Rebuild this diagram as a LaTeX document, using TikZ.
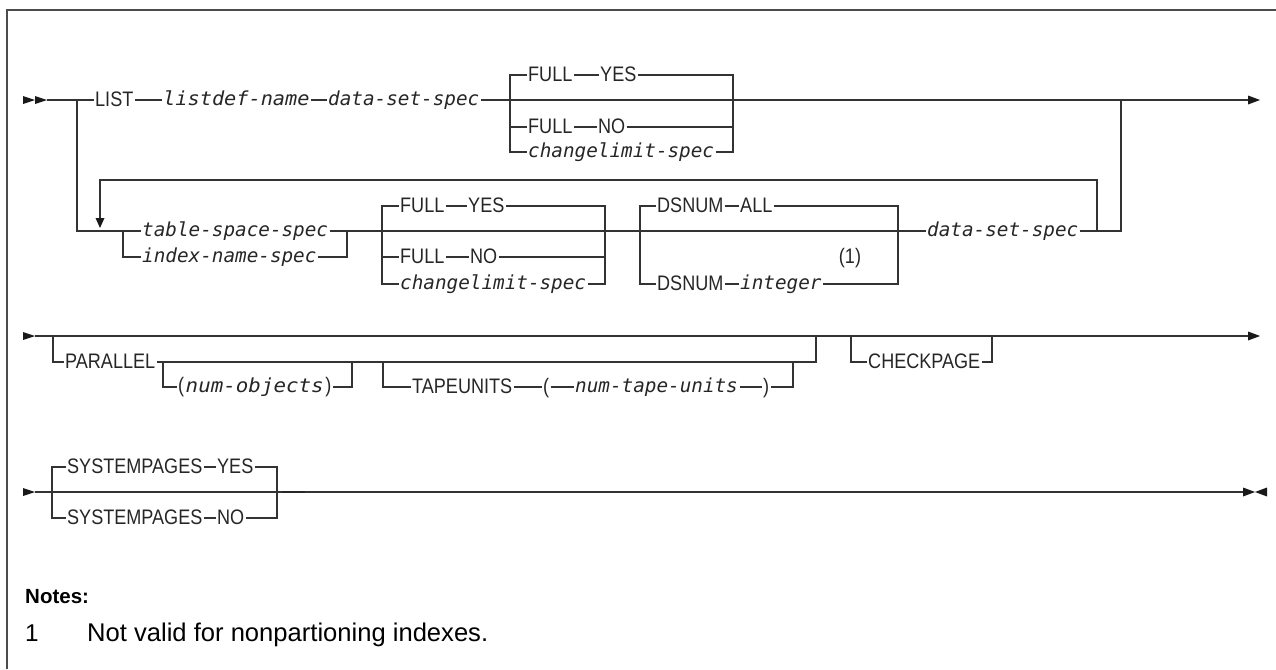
\documentclass[tikz,border=0pt]{standalone}
\usepackage{fontspec}
\usepackage{graphicx}
\newfontfamily\kwfont[Scale=2.1,FakeStretch=0.86]{Liberation Sans}
\newfontfamily\varfont[Scale=1.93]{DejaVu Sans Mono}
\newfontfamily\notefont[Scale=2.4]{Liberation Sans}
\newfontfamily\notebold[Scale=2.05]{Liberation Sans Bold}
\tikzset{
  rr/.style={line width=1.3pt, draw=black!80},
  kw/.style={font=\kwfont, inner xsep=1.5pt, inner ysep=0pt,
             text height=14.6pt, text depth=2pt, anchor=west, text=black!85},
  var/.style={font=\varfont\itshape, inner xsep=1.5pt, inner ysep=0pt,
             text height=15.2pt, text depth=4pt, anchor=west, text=black!85},
  note/.style={font=\notefont, inner sep=0pt, anchor=base west},
  tip/.style={fill=black!90},
  frame/.style={line width=2pt, draw=black!70}
}
\newcommand{\kwpar}[1]{{\kwfont\upshape #1}}
\begin{document}
\begin{tikzpicture}[x=1pt,y=-1pt]
\useasboundingbox (0,0) rectangle (1276,669);
% frame
\coordinate (fbl) at (7,669); \coordinate (ftl) at (7,10); \coordinate (ftr) at (1276,10);
\draw[frame] (fbl) -- (ftl) -- (ftr);

% ---------- Row 1 ----------
\coordinate (r1s) at (47,100); \coordinate (r1e) at (1248,100);
\fill[tip] (23,96) -- (35,100) -- (23,104) -- cycle;
\fill[tip] (35,96) -- (47,100) -- (35,104) -- cycle;
\fill[tip] (1248,95.5) -- (1260,100) -- (1248,104.5) -- cycle;
\node[kw] (list) at (93.5,100) {LIST};
\node[var] (ldn) at (161.5,100) {\scalebox{1.05}[1]{listdef-name}};
\node[var] (dss1) at (326.5,100) {data-set-spec};
\draw[rr] (r1s) -- (list.west) (list.east) -- (ldn.west) (ldn.east) -- (dss1.west) (dss1.east) -- (r1e);
% FULL box row 1
\coordinate (f1l) at (510,100); \coordinate (f1r) at (733,100);
\node[kw] (f1full) at (526.5,75) {FULL};
\node[kw] (f1yes) at (598.5,75) {YES};
\node[kw] (f1full2) at (526.5,127) {FULL};
\node[kw] (f1no) at (596.5,127) {NO};
\node[var] (f1cl) at (526.5,152) {changelimit-spec};
\draw[rr] (f1l) |- (f1full.west) (f1l) |- (f1full2.west) (f1l) |- (f1cl.west)
  (f1full.east) -- (f1yes.west) (f1yes.east) -| (f1r)
  (f1full2.east) -- (f1no.west) (f1no.east) -| (f1r) (f1cl.east) -| (f1r);
% branch down to row 2
\coordinate (b1) at (77,100);

% ---------- Row 2 ----------
\node[var] (tss) at (140.5,231) {table-space-spec};
\node[var] (ins) at (140.5,257) {index-name-spec};
\coordinate (lb2) at (123,231); \coordinate (rb2) at (347,231);
\draw[rr] (b1) |- (tss.west) (lb2) |- (ins.west) (tss.east) -- (rb2) (ins.east) -| (rb2);
\node[var] (dss2) at (925.5,231) {data-set-spec};
\draw[rr] (rb2) -- (dss2.west);
% FULL box row 2
\coordinate (f2l) at (382,231); \coordinate (f2r) at (605,231);
\node[kw] (f2full) at (398.5,206) {FULL};
\node[kw] (f2yes) at (466.5,206) {YES};
\node[kw] (f2full2) at (398.5,257) {FULL};
\node[kw] (f2no) at (468.5,257) {NO};
\node[var] (f2cl) at (398.5,284) {changelimit-spec};
\draw[rr] (f2l) |- (f2full.west) (f2l) |- (f2full2.west) (f2l) |- (f2cl.west)
  (f2full.east) -- (f2yes.west) (f2yes.east) -| (f2r)
  (f2full2.east) -- (f2no.west) (f2no.east) -| (f2r) (f2cl.east) -| (f2r);
% DSNUM box
\coordinate (d2l) at (640,231); \coordinate (d2r) at (898,231);
\node[kw] (dsn1) at (655.5,206) {DSNUM};
\node[kw] (dall) at (738.5,206) {ALL};
\node[kw] (dsn2) at (655.5,284) {DSNUM};
\node[var] (dint) at (738.5,284) {integer};
\node[kw, anchor=center] (fn1) at (850,257) {(1)};
\draw[rr] (d2l) |- (dsn1.west) (d2l) |- (dsn2.west)
  (dsn1.east) -- (dall.west) (dall.east) -| (d2r)
  (dsn2.east) -- (dint.west) (dint.east) -| (d2r);
% loop end and repeat
\coordinate (j1) at (1121,100); \coordinate (j2) at (1121,231);
\draw[rr] (dss2.east) -- (j2) -- (j1);
\coordinate (rp1) at (1097,231); \coordinate (rp2) at (1097,180);
\coordinate (rp3) at (100,180); \coordinate (rp4) at (100,219);
\draw[rr] (rp1) -- (rp2) -- (rp3) -- (rp4);
\fill[tip] (95.5,218) -- (104.5,218) -- (100,228) -- cycle;

% ---------- Row 3 ----------
\coordinate (r3s) at (35,336); \coordinate (r3e) at (1248,336);
\fill[tip] (23,332) -- (35,336) -- (23,340) -- cycle;
\fill[tip] (1248,331.5) -- (1260,336) -- (1248,340.5) -- cycle;
\draw[rr] (r3s) -- (r3e);
\coordinate (p1) at (53,336); \coordinate (p2) at (816,336);
\node[kw] (par) at (63.5,362) {PARALLEL};
\draw[rr] (p1) |- (par.west) (par.east) -| (p2);
\coordinate (n1) at (163,362); \coordinate (n2) at (352,362);
\node[var] (nob) at (176.5,387) {\kwpar{(}\hspace{1.5pt}\scalebox{1.08}[1]{num-objects}\hspace{1.5pt}\kwpar{)}};
\draw[rr] (n1) |- (nob.west) (nob.east) -| (n2);
\coordinate (t1) at (383,362); \coordinate (t2) at (793,362);
\node[kw] (tape) at (410.5,387) {TAPEUNITS};
\node[kw] (lpar) at (541.5,387) {(};
\node[var] (ntu) at (573.5,387) {num-tape-units};
\node[kw] (rpar) at (761.5,387) {)};
\draw[rr] (t1) |- (tape.west) (tape.east) -- (lpar.west) (lpar.east) -- (ntu.west)
  (ntu.east) -- (rpar.west) (rpar.east) -| (t2);
\coordinate (c1) at (851,336); \coordinate (c2) at (992,336);
\node[kw] (chk) at (866.5,362) {CHECKPAGE};
\draw[rr] (c1) |- (chk.west) (chk.east) -| (c2);

% ---------- Row 4 ----------
\coordinate (r4s) at (35,492); \coordinate (r4e) at (1243,492);
\fill[tip] (23,488) -- (35,492) -- (23,496) -- cycle;
\fill[tip] (1243,487.5) -- (1255,492) -- (1243,496.5) -- cycle;
\fill[tip] (1267,487.5) -- (1255,492) -- (1267,496.5) -- cycle;
\draw[rr] (r4s) -- (r4e);
\coordinate (s1) at (52,492); \coordinate (s2) at (277,492);
\node[kw] (sys1) at (65.5,467) {SYSTEMPAGES};
\node[kw] (yes4) at (215.5,467) {YES};
\node[kw] (sys2) at (65.5,518) {SYSTEMPAGES};
\node[kw] (no4) at (215.5,518) {NO};
\draw[rr] (s1) |- (sys1.west) (s1) |- (sys2.west)
  (sys1.east) -- (yes4.west) (yes4.east) -| (s2)
  (sys2.east) -- (no4.west) (no4.east) -| (s2);
\coordinate (k1) at (282,492); \coordinate (k2) at (305,492);
\draw[line width=2.6pt, draw=black!85] (k1) -- (k2);

% ---------- Notes ----------
\node[note, font=\notebold] (notes) at (25,603) {Notes:};
\node[note] (nnum) at (25,641) {\resizebox{!}{16.7pt}{1}};
\node[note] (ntxt) at (87,641) {\resizebox{401pt}{!}{Not valid for nonpartioning indexes.}};
\end{tikzpicture}
\end{document}
